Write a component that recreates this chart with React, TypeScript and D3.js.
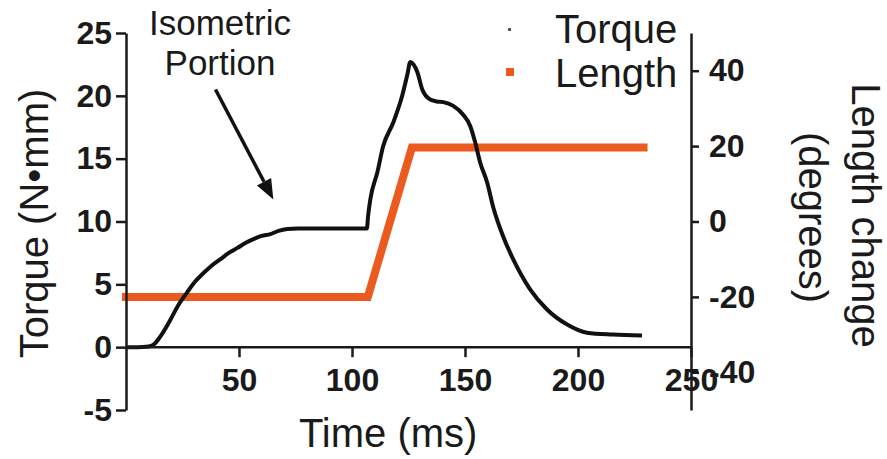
import { useEffect, useRef } from 'react';
import * as d3 from 'd3';

// Torque trace (ms, N·mm)
const torqueTime = [0, 5, 10, 12.2, 15, 19.7, 23, 27.2, 30.5, 34.3, 38, 41.8, 45.5, 49.3, 53, 56.4, 60, 63.9, 67.5, 71.4, 76, 80, 90, 100, 106.6,
  107.1, 108.1, 111.2, 113.8, 118.3, 122.2, 124.5, 125.8, 127.2, 128.9, 131.1, 134.6, 137.5, 140.4, 144.8, 149.2, 152.3, 154.5, 156.7, 159.8,
  162.4, 166.9, 171.3, 178.8, 186.3, 195.2, 204, 215.5, 228.3];
const torqueValue = [0, 0, 0.05, 0.2, 0.8, 2.2, 3.3, 4.4, 5.2, 5.9, 6.5, 7.0, 7.5, 7.9, 8.3, 8.6, 8.85, 9.0, 9.25, 9.4, 9.45, 9.45, 9.45, 9.45, 9.45,
  10.4, 11.75, 13.9, 16.0, 17.9, 20.0, 21.7, 22.7, 22.5, 21.9, 20.5, 19.7, 19.55, 19.5, 19.2, 18.5, 17.6, 16.3, 14.7, 13.1,
  11.2, 8.8, 7.0, 4.6, 3.0, 1.8, 1.15, 1.0, 0.92];

// Length change (ms, degrees)
const lengthTime = [0, 107, 126.5, 229];
const lengthValue = [-20, -20, 19.6, 19.6];

const xTicks = [50, 100, 150, 200, 250];
const torqueTicks = [-5, 0, 5, 10, 15, 20, 25];
const lengthTicks = [-40, -20, 0, 20, 40];

const ORANGE = '#eb5a1e';
const INK = '#1a1a1a';
const FONT = '"Liberation Sans", Arial, Helvetica, sans-serif';

function App() {
  const svgRef = useRef<SVGSVGElement>(null);

  useEffect(() => {
    const svg = d3.select(svgRef.current);
    svg.selectAll('*').remove();

    const left = 126, right = 691, top = 33, bottom = 410;

    const x = d3.scaleLinear().domain([0, 250]).range([left, right]);
    const yT = d3.scaleLinear().domain([-5, 25]).range([bottom, top]);
    const yL = d3.scaleLinear().domain([-50, 50]).range([bottom, top]);

    const g = svg.append('g').attr('font-family', FONT);

    // Length trace (thick orange, square markers)
    const lengthPts = lengthTime.map((t, i) => [t, lengthValue[i]] as [number, number]);
    g.append('path')
      .datum(lengthPts)
      .attr('fill', 'none')
      .attr('stroke', ORANGE)
      .attr('stroke-width', 8)
      .attr('stroke-linecap', 'square')
      .attr('stroke-linejoin', 'miter')
      .attr('d', d3.line<[number, number]>().x(d => x(d[0])).y(d => yL(d[1])));

    // Torque trace
    const torquePts = torqueTime.map((t, i) => [t, torqueValue[i]] as [number, number]);
    g.append('path')
      .datum(torquePts)
      .attr('fill', 'none')
      .attr('stroke', '#111')
      .attr('stroke-width', 4)
      .attr('stroke-linejoin', 'round')
      .attr('d', d3.line<[number, number]>().x(d => x(d[0])).y(d => yT(d[1])).curve(d3.curveMonotoneX));

    // Axes
    const plain = (d: any) => String(d);
    const styleAxis = (sel: any) => {
      sel.select('.domain').attr('stroke', INK).attr('stroke-width', 2.5);
      sel.selectAll('.tick line').attr('stroke', INK).attr('stroke-width', 2.5);
      sel.selectAll('.tick text')
        .attr('font-family', FONT)
        .attr('font-size', 32)
        .attr('font-weight', 'bold')
        .attr('fill', INK);
    };

    const xAxis = g.append('g')
      .attr('transform', `translate(0,${yT(0)})`)
      .call(d3.axisBottom(x).tickValues(xTicks).tickFormat(plain).tickSize(10).tickSizeOuter(0).tickPadding(11));
    styleAxis(xAxis);
    xAxis.select('.domain').attr('d', `M${left},0H${right}`);

    const leftAxis = g.append('g')
      .attr('transform', `translate(${left},0)`)
      .call(d3.axisLeft(yT).tickValues(torqueTicks).tickFormat(plain).tickSize(10).tickSizeOuter(0).tickPadding(4));
    styleAxis(leftAxis);

    const rightAxis = g.append('g')
      .attr('transform', `translate(${right},0)`)
      .call(d3.axisRight(yL).tickValues(lengthTicks).tickFormat(plain).tickSize(8).tickSizeOuter(0).tickPadding(10));
    styleAxis(rightAxis);

    // Axis titles
    g.append('text')
      .attr('transform', `translate(48,${(top + bottom) / 2 + 2}) rotate(-90)`)
      .attr('text-anchor', 'middle')
      .attr('font-size', 40)
      .attr('fill', INK)
      .text('Torque (N•mm)');

    g.append('text')
      .attr('x', x(116))
      .attr('y', 447)
      .attr('text-anchor', 'middle')
      .attr('font-size', 40)
      .attr('fill', INK)
      .text('Time (ms)');

    g.append('text')
      .attr('transform', `translate(852,${(top + bottom) / 2 - 6}) rotate(90)`)
      .attr('text-anchor', 'middle')
      .attr('font-size', 40)
      .attr('fill', INK)
      .text('Length change');

    g.append('text')
      .attr('transform', `translate(799,${(top + bottom) / 2 - 4}) rotate(90)`)
      .attr('text-anchor', 'middle')
      .attr('font-size', 40)
      .attr('fill', INK)
      .text('(degrees)');

    // Legend
    g.append('rect')
      .attr('x', 508).attr('y', 28).attr('width', 3).attr('height', 3)
      .attr('fill', '#555');
    g.append('text')
      .attr('x', 555).attr('y', 43)
      .attr('font-size', 40)
      .attr('fill', INK)
      .text('Torque');
    g.append('rect')
      .attr('x', 506).attr('y', 68).attr('width', 8).attr('height', 8)
      .attr('fill', ORANGE);
    g.append('text')
      .attr('x', 555).attr('y', 87)
      .attr('font-size', 40)
      .attr('fill', INK)
      .text('Length');

    // Annotation
    const note = g.append('text')
      .attr('text-anchor', 'middle')
      .attr('font-size', 35)
      .attr('fill', INK);
    note.append('tspan').attr('x', 220).attr('y', 35).text('Isometric');
    note.append('tspan').attr('x', 220).attr('y', 75).text('Portion');

    const a0: [number, number] = [x(39.6), yT(20.5)];
    const a1: [number, number] = [x(65.2), yT(11.75)];
    const ang = Math.atan2(a1[1] - a0[1], a1[0] - a0[0]);
    const headLen = 20, headW = 8;
    const base: [number, number] = [a1[0] - headLen * Math.cos(ang), a1[1] - headLen * Math.sin(ang)];
    g.append('line')
      .attr('x1', a0[0]).attr('y1', a0[1])
      .attr('x2', base[0]).attr('y2', base[1])
      .attr('stroke', '#111').attr('stroke-width', 3.5);
    g.append('path')
      .attr('d', `M${a1[0]},${a1[1]}L${base[0] + headW * Math.sin(ang)},${base[1] - headW * Math.cos(ang)}L${base[0] - headW * Math.sin(ang)},${base[1] + headW * Math.cos(ang)}Z`)
      .attr('fill', '#111');
  }, []);

  return (
    <svg
      ref={svgRef}
      width={887}
      height={459}
      style={{ position: 'absolute', left: 0, top: 0, background: '#fff' }}
    />
  );
}

export default App;
